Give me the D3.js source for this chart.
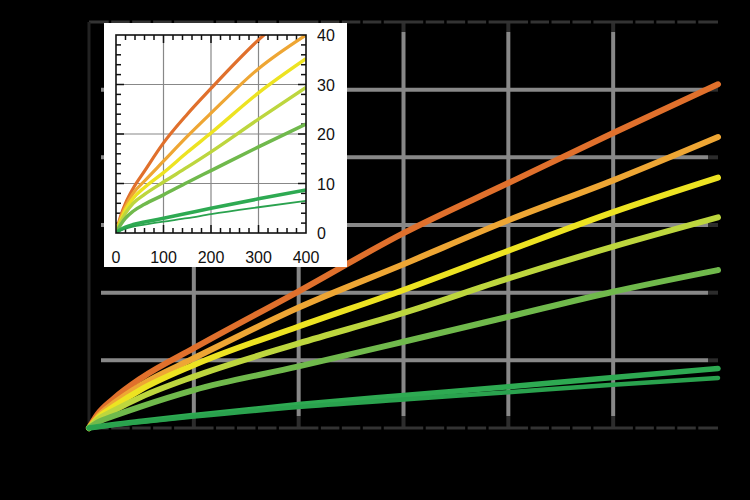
<!DOCTYPE html>
<meta charset="utf-8">
<style>
  body { margin: 0; background: #000; }
  svg { display: block; }
  .inset-label { font-family: "Liberation Sans", Arial, sans-serif; font-size: 16px; fill: #111; }
</style>

<svg width="750" height="500"></svg>

<script src="https://d3js.org/d3.v7.min.js"></script>

<script>
  // main chart data (x in sampling points, one array per series)
  var mainX       = [0, 40, 120, 250, 500, 1000, 1500, 2000, 2500, 3000];
  var mainOrange  = [0, 10, 22, 37, 59, 101, 144, 181, 218, 254];
  var mainAmber   = [0, 8, 18.5, 32, 51.5, 89, 121, 153.5, 183, 215];
  var mainYellow  = [0, 7, 16, 28.5, 46.5, 75, 102, 131, 159.5, 185];
  var mainLime    = [0, 6, 13, 23, 38, 62.5, 85, 110.5, 134, 155.6];
  var mainGreen   = [0, 4, 9, 16, 28, 45.5, 63.7, 82.2, 100.7, 116.7];
  var mainDkGreen = [0, 0.9, 2.6, 5, 9.3, 17.3, 24, 30.5, 37.3, 44];
  var mainThin    = [0, 0.8, 2.3, 4.5, 8.4, 15.5, 21, 26.5, 32, 37];
  var mainXTicks  = [500, 1000, 1500, 2000, 2500];
  var mainYTicks  = [50, 100, 150, 200, 250];

  // inset (zoom on the start)
  var insetX       = [0, 10, 20, 36, 60, 100, 150, 200, 300, 400];
  var insetOrange  = [0, 3.5, 6, 9, 12.5, 18.2, 24, 29.2, 39, 47];
  var insetAmber   = [0, 3, 5.3, 8, 10.5, 14.5, 19.5, 24.2, 33.2, 40];
  var insetYellow  = [0, 2.6, 4.7, 7, 9.2, 12.2, 16.3, 20.2, 28.3, 35.2];
  var insetLime    = [0, 2.2, 4, 6, 7.8, 10.3, 13.3, 16.4, 23, 29.4];
  var insetGreen   = [0, 1.7, 3, 4.4, 5.8, 7.7, 10.2, 12.6, 17.4, 22];
  var insetDkGreen = [0, 0.7, 1.2, 1.7, 2.2, 3, 4, 5, 6.9, 8.7];
  var insetThin    = [0, 0.5, 0.9, 1.3, 1.7, 2.3, 3, 3.8, 5.2, 6.5];
  var insetXTicks  = [0, 100, 200, 300, 400];
  var insetYTicks  = [0, 10, 20, 30, 40];

  var colors = ["#e0702c", "#eea634", "#ede322", "#bdd63e", "#70b94c", "#2eaa52", "#2aa24e"];
  var mainWidths  = [6, 6, 6, 6, 6, 5.5, 4.5];
  var insetWidths = [3.2, 3.2, 3.4, 3.4, 3.4, 3.6, 1.8];

  var mainSeries  = [mainOrange, mainAmber, mainYellow, mainLime, mainGreen, mainDkGreen, mainThin];
  var insetSeries = [insetOrange, insetAmber, insetYellow, insetLime, insetGreen, insetDkGreen, insetThin];

  var svg = d3.select("svg");

  // ---------- main chart ----------
  var x = d3.scaleLinear().domain([0, 3000]).range([89, 718]);
  var y = d3.scaleLinear().domain([0, 300]).range([428, 22]);

  var grid = svg.append("g").attr("stroke", "#888").attr("stroke-width", 4);
  grid.selectAll(".vg").data(mainXTicks).enter().append("line")
      .attr("x1", d => x(d)).attr("x2", d => x(d))
      .attr("y1", y(300) + 10).attr("y2", y(0) - 12);
  grid.selectAll(".hg").data(mainYTicks).enter().append("line")
      .attr("x1", x(0) + 12).attr("x2", x(3000) - 10)
      .attr("y1", d => y(d)).attr("y2", d => y(d));

  // dark major ticks where the grid meets the frame
  var ticks = svg.append("g").attr("stroke", "#2c2c2c").attr("stroke-width", 4);
  mainXTicks.forEach(function(d) {
    ticks.append("line").attr("x1", x(d)).attr("x2", x(d)).attr("y1", y(300)).attr("y2", y(300) + 10);
    ticks.append("line").attr("x1", x(d)).attr("x2", x(d)).attr("y1", y(0)).attr("y2", y(0) - 12);
  });
  mainYTicks.forEach(function(d) {
    ticks.append("line").attr("x1", x(3000)).attr("x2", x(3000) - 10).attr("y1", y(d)).attr("y2", y(d));
  });

  // frame: dark gray top/bottom with black minor ticks, left axis
  svg.append("g").attr("stroke", "#333").attr("stroke-width", 3)
    .selectAll("line").data([0, 300]).enter().append("line")
      .attr("x1", x(0)).attr("x2", x(3000))
      .attr("y1", d => y(d)).attr("y2", d => y(d));
  svg.append("line").attr("stroke", "#222").attr("stroke-width", 3)
      .attr("x1", x(0)).attr("x2", x(0)).attr("y1", y(0)).attr("y2", y(300));
  var minor = d3.range(100, 3000, 100).filter(d => d % 500 !== 0);
  svg.append("g").attr("stroke", "#000").attr("stroke-width", 2.5)
    .selectAll("line").data(minor.concat(minor.map(d => -d))).enter().append("line")
      .attr("x1", d => x(Math.abs(d))).attr("x2", d => x(Math.abs(d)))
      .attr("y1", d => d > 0 ? y(300) - 3 : y(0) + 3)
      .attr("y2", d => d > 0 ? y(300) + 3 : y(0) - 3);

  var mainLine = d3.line().curve(d3.curveMonotoneX)
      .x((d, i) => x(mainX[i])).y(d => y(d));

  svg.append("g").attr("fill", "none").attr("stroke-linecap", "round")
    .selectAll("path").data(mainSeries).enter().append("path")
      .attr("stroke", (d, i) => colors[i])
      .attr("stroke-width", (d, i) => mainWidths[i])
      .attr("d", mainLine);

  // ---------- inset ----------
  var ix = d3.scaleLinear().domain([0, 400]).range([116, 306]);
  var iy = d3.scaleLinear().domain([0, 40]).range([233, 35]);

  var inset = svg.append("g");
  inset.append("rect").attr("x", 104).attr("y", 23).attr("width", 243).attr("height", 244)
      .attr("fill", "#fff");

  inset.append("clipPath").attr("id", "iclip").append("rect")
      .attr("x", ix(0)).attr("y", iy(40)).attr("width", ix(400) - ix(0)).attr("height", iy(0) - iy(40));

  var ig = inset.append("g").attr("stroke", "#888").attr("stroke-width", 1.2);
  ig.selectAll(".v").data([100, 200, 300]).enter().append("line")
      .attr("x1", d => ix(d)).attr("x2", d => ix(d)).attr("y1", iy(0)).attr("y2", iy(40));
  ig.selectAll(".h").data([10, 20, 30]).enter().append("line")
      .attr("x1", ix(0)).attr("x2", ix(400)).attr("y1", d => iy(d)).attr("y2", d => iy(d));

  var it = inset.append("g").attr("stroke", "#111").attr("stroke-width", 1.5);
  d3.range(20, 400, 20).forEach(function(d) {
    var len = d % 100 === 0 ? 8 : 5;
    it.append("line").attr("x1", ix(d)).attr("x2", ix(d)).attr("y1", iy(0)).attr("y2", iy(0) - len);
    it.append("line").attr("x1", ix(d)).attr("x2", ix(d)).attr("y1", iy(40)).attr("y2", iy(40) + len);
  });
  d3.range(2, 40, 2).forEach(function(d) {
    var len = d % 10 === 0 ? 8 : 5;
    it.append("line").attr("x1", ix(0)).attr("x2", ix(0) + len).attr("y1", iy(d)).attr("y2", iy(d));
    it.append("line").attr("x1", ix(400)).attr("x2", ix(400) - len).attr("y1", iy(d)).attr("y2", iy(d));
  });

  var insetLine = d3.line().curve(d3.curveMonotoneX)
      .x((d, i) => ix(insetX[i])).y(d => iy(d));

  inset.append("g").attr("fill", "none").attr("clip-path", "url(#iclip)")
    .selectAll("path").data(insetSeries).enter().append("path")
      .attr("stroke", (d, i) => colors[i])
      .attr("stroke-width", (d, i) => insetWidths[i])
      .attr("d", insetLine);

  inset.append("rect").attr("x", ix(0)).attr("y", iy(40))
      .attr("width", ix(400) - ix(0)).attr("height", iy(0) - iy(40))
      .attr("fill", "none").attr("stroke", "#111").attr("stroke-width", 1.6);

  inset.selectAll(".xl").data(insetXTicks).enter().append("text")
      .attr("class", "inset-label")
      .attr("x", d => ix(d)).attr("y", 263)
      .attr("text-anchor", "middle").text(d => d);
  inset.selectAll(".yl").data(insetYTicks).enter().append("text")
      .attr("class", "inset-label")
      .attr("x", 317).attr("y", d => iy(d) + 6)
      .text(d => d);
</script>
